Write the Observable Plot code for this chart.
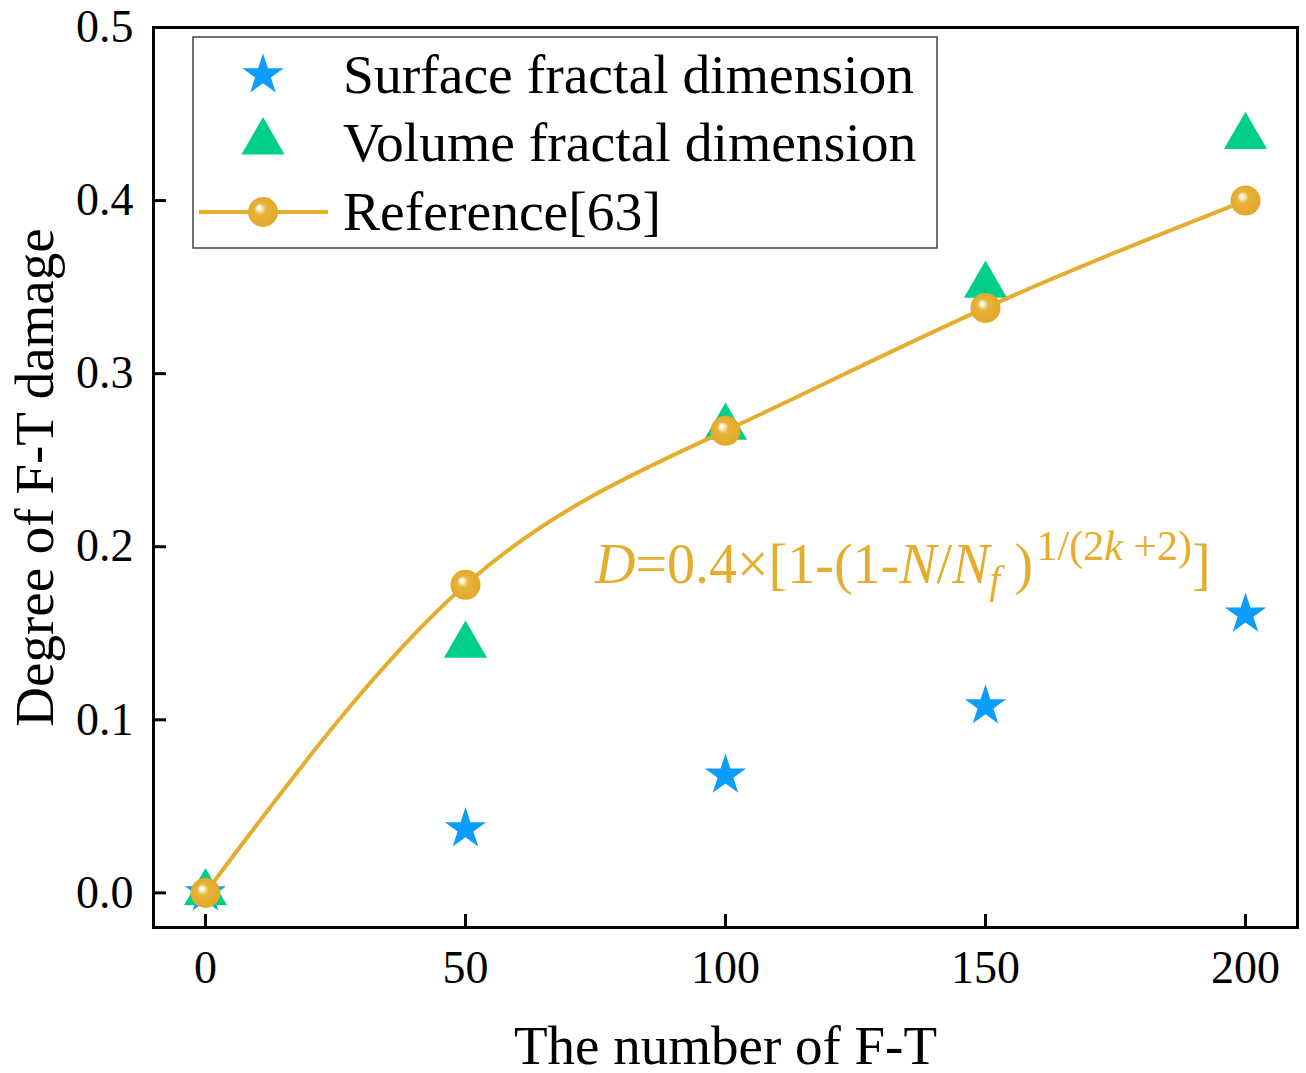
<!DOCTYPE html>
<html><head><meta charset="utf-8">
<script src="https://cdn.jsdelivr.net/npm/d3@7"></script>
<script src="https://cdn.jsdelivr.net/npm/@observablehq/plot@0.6"></script>
<style>body{margin:0;background:#fff} svg{display:block}</style>
</head><body><div id="chart"></div>
<script>
// ---- data ----
const cycles = [0, 50, 100, 150, 200];
const surface = [0, 0.037, 0.068, 0.108, 0.161];
const volume = [0, 0.143, 0.269, 0.351, 0.437];
const reference = [0, 0.178, 0.267, 0.338, 0.400];
const xTicks = [0, 50, 100, 150, 200];
const yTicks = [0, 0.1, 0.2, 0.3, 0.4, 0.5];
const legendLabels = ["Surface fractal dimension", "Volume fractal dimension", "Reference[63]"];
const xTitle = "The number of F-T";
const yTitle = "Degree of F-T damage";
const formulaAnchor = [75, 0.1785];

const C = {surface: "#0A9DFB", volume: "#00CF8A", reference: "#E5AD2D"};
const FONT = "Liberation Serif, Times New Roman, serif";

const rows = cycles.map((c, i) => ({c, s: surface[i], v: volume[i], r: reference[i]}));

const chart = Plot.plot({
  width: 1306, height: 1073,
  marginLeft: 153, marginRight: 9, marginTop: 27, marginBottom: 146,
  style: {fontFamily: FONT, background: "#fff", color: "#000", overflow: "visible"},
  x: {domain: [-10, 210]},
  y: {domain: [-0.02, 0.5]},
  marks: [
    Plot.dot(rows, {x: "c", y: "s", symbol: "star", r: 13, fill: C.surface, stroke: "none"}),
    Plot.dot(rows, {x: "c", y: "v", symbol: "triangle", r: 16, fill: C.volume, stroke: "none"}),
    Plot.line(rows, {x: "c", y: "r", stroke: C.reference, strokeWidth: 4, curve: "natural"}),
    Plot.dot(rows, {x: "c", y: "r", r: 15, fill: "url(#ball)", stroke: "none"}),
    Plot.frame({stroke: "#000", strokeWidth: 3}),
    Plot.axisX(xTicks, {tickSize: -13, tickPadding: 36, strokeWidth: 3, fontSize: 46, label: null}),
    Plot.axisY(yTicks, {tickSize: -13, tickPadding: 33, strokeWidth: 3, fontSize: 46, label: null, tickFormat: d3.format(".1f")}),
    Plot.text([xTitle], {text: d => d, frameAnchor: "bottom", dy: 136, fontSize: 55, textAnchor: "middle"}),
    Plot.text([yTitle], {text: d => d, frameAnchor: "left", dx: -118, rotate: -90, fontSize: 55, textAnchor: "middle"})
  ]
});
document.getElementById("chart").appendChild(chart);

const svg = d3.select(chart);
// gradient for balls
const defs = svg.insert("defs", ":first-child");
const grad = defs.append("radialGradient").attr("id", "ball")
  .attr("cx", "50%").attr("cy", "50%").attr("r", "50%").attr("fx", "36%").attr("fy", "34%");
[["0%", "#ffffff"], ["8%", "#ffffff"], ["22%", "#f6dc9c"], ["38%", "#e8b33c"], ["100%", "#e2a929"]]
  .forEach(([o, c]) => grad.append("stop").attr("offset", o).attr("stop-color", c));

const sx = chart.scale("x"), sy = chart.scale("y");

// formula annotation
const FS = 56;
const ft = svg.append("text")
  .attr("x", sx.apply(formulaAnchor[0])).attr("y", sy.apply(formulaAnchor[1]))
  .attr("text-anchor", "start")
  .attr("fill", C.reference).attr("font-family", FONT).attr("font-size", FS);
const parts = [
  ["D", "italic", 0, 1], ["=0.4×[1-(1-", "normal", 0, 1], ["N", "italic", 0, 1], ["/", "normal", 0, 1],
  ["N", "italic", 0, 1], ["f", "italic", 10, 0.7], ["\u00a0)", "normal", -10, 1],
  ["\u200a1/(2", "normal", -23, 0.75], ["k", "italic", 0, 0.75], ["\u00a0+2)", "normal", 0, 0.75], ["]", "normal", 23, 1]
];
parts.forEach(([t, st, dy, sc]) => ft.append("tspan").attr("font-style", st).attr("dy", dy)
  .attr("font-size", FS * sc).text(t));

// legend
const lg = svg.append("g").attr("font-family", FONT).attr("text-anchor", "start");
lg.append("rect").attr("x", 193).attr("y", 37).attr("width", 744).attr("height", 211)
  .attr("fill", "#fff").attr("stroke", "#444").attr("stroke-width", 1.5);
const sym = (type, r) => d3.symbol(type, Math.PI * r * r)();
lg.append("path").attr("d", sym(d3.symbolStar, 13)).attr("transform", "translate(263,75)").attr("fill", C.surface);
lg.append("path").attr("d", sym(d3.symbolTriangle, 16)).attr("transform", "translate(263,142)").attr("fill", C.volume);
lg.append("line").attr("x1", 199).attr("x2", 328).attr("y1", 212).attr("y2", 212)
  .attr("stroke", C.reference).attr("stroke-width", 4);
lg.append("circle").attr("cx", 263).attr("cy", 212).attr("r", 15).attr("fill", "url(#ball)");
[93, 161, 230].forEach((y, i) => lg.append("text").attr("x", 343).attr("y", y)
  .attr("font-size", 55.6).attr("fill", "#000").text(legendLabels[i]));
</script>
</body></html>
